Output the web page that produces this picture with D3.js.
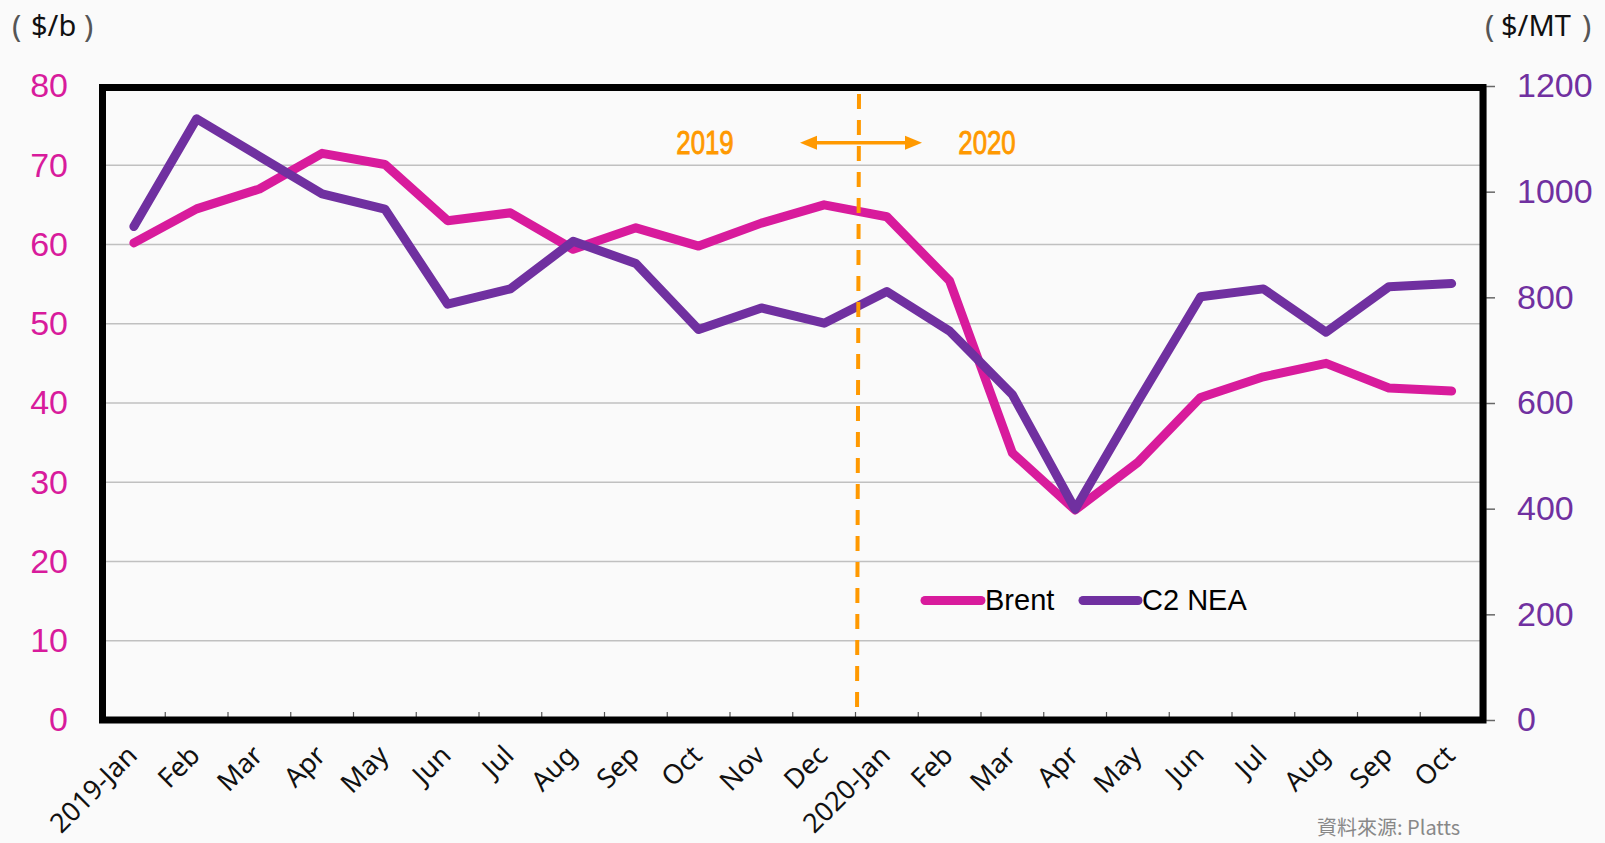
<!DOCTYPE html>
<html>
<head>
<meta charset="utf-8">
<script src="https://cdn.jsdelivr.net/npm/d3@7"></script>
<style>
  html, body { margin: 0; padding: 0; background: #fafafa; }
  svg { display: block; }
</style>
</head>
<body>
<div class="canvas"></div>
<script>
// month labels along the bottom
const months = [
  "2019-Jan", "Feb", "Mar", "Apr", "May", "Jun", "Jul", "Aug", "Sep", "Oct", "Nov", "Dec",
  "2020-Jan", "Feb", "Mar", "Apr", "May", "Jun", "Jul", "Aug", "Sep", "Oct"
];
// Brent, $/b (left axis)
const brent = [60.2, 64.5, 67.0, 71.5, 70.1, 63.0, 64.0, 59.4, 62.1, 59.8, 62.7, 65.0,
  63.5, 55.4, 33.7, 26.5, 32.5, 40.7, 43.3, 45.0, 41.9, 41.5];
// C2 NEA, $/MT (right axis)
const c2nea = [934, 1138, 1067, 996, 967, 787, 816, 906, 864, 739, 780, 751,
  811, 736, 616, 399, 603, 801, 816, 734, 820, 826];
const leftTicks = [0, 10, 20, 30, 40, 50, 60, 70, 80];
const rightTicks = [0, 200, 400, 600, 800, 1000, 1200];
const series = [
  { name: "Brent", values: brent, axis: "left" },
  { name: "C2 NEA", values: c2nea, axis: "right" }
];
const splitIndex = 12; // 2020-Jan

const width = 1605, height = 843;
const box = { left: 102.5, right: 1483, top: 86, bottom: 720 };
const magenta = "#d81b9c";
const purple = "#7030a0";
const orange = "#ff9900";

const svg = d3.select(".canvas")
  .append("svg")
  .attr("width", width)
  .attr("height", height);

svg.append("rect")
  .attr("width", width)
  .attr("height", height)
  .attr("fill", "#fafafa");

const x = d3.scaleBand()
  .domain(months.map((d, i) => i))
  .range([box.left, box.right])
  .padding(0);

const yLeft = d3.scaleLinear().domain([0, 80]).range([box.bottom, box.top]);
const yRight = d3.scaleLinear().domain([0, 1200]).range([box.bottom, box.top]);

// gridlines
svg.append("g")
  .selectAll("line")
  .data(leftTicks.filter(d => d > 0 && d < 80))
  .enter()
  .append("line")
  .attr("x1", box.left)
  .attr("x2", box.right)
  .attr("y1", d => yLeft(d))
  .attr("y2", d => yLeft(d))
  .attr("stroke", "#c0c0c0")
  .attr("stroke-width", 1.5);

// bottom ticks between months
svg.append("g")
  .selectAll("line")
  .data(months.map((d, i) => i).filter(i => i > 0))
  .enter()
  .append("line")
  .attr("x1", i => x(i))
  .attr("x2", i => x(i))
  .attr("y1", box.bottom)
  .attr("y2", box.bottom - 8)
  .attr("stroke", "#555")
  .attr("stroke-width", 1.2);

// left axis labels
const leftAxis = svg.append("g")
  .attr("transform", "translate(68,0)")
  .call(d3.axisLeft(yLeft).tickValues(leftTicks).tickSize(0).tickPadding(0));
leftAxis.select(".domain").remove();
leftAxis.selectAll("text")
  .attr("fill", magenta)
  .style("font-family", "'Liberation Sans', Arial, sans-serif")
  .style("font-size", "34px");

// right axis
const rightAxis = svg.append("g")
  .attr("transform", `translate(${box.right + 2},0)`)
  .call(d3.axisRight(yRight).tickValues(rightTicks).tickFormat(d3.format("d"))
    .tickSize(10).tickSizeOuter(0).tickPadding(22));
rightAxis.select(".domain").attr("stroke", "#666").attr("stroke-width", 1.5);
rightAxis.selectAll("line").attr("stroke", "#666").attr("stroke-width", 1.5);
rightAxis.selectAll("text")
  .attr("fill", purple)
  .style("font-family", "'Liberation Sans', Arial, sans-serif")
  .style("font-size", "34px");

// month labels, rotated
svg.append("g")
  .selectAll("text")
  .data(months)
  .enter()
  .append("text")
  .attr("transform", (d, i) => `translate(${x(i) + x.bandwidth() / 2 + 5},757) rotate(-45)`)
  .attr("text-anchor", "end")
  .style("font-family", "'Noto Sans', 'Open Sans', sans-serif")
  .style("font-size", "27px")
  .attr("fill", "#111")
  .text(d => d);

// lines
const lineFor = s => d3.line()
  .x((d, i) => x(i) + x.bandwidth() / 2)
  .y(d => (s.axis === "left" ? yLeft(d) : yRight(d)));

svg.append("g")
  .selectAll("path")
  .data(series)
  .enter()
  .append("path")
  .attr("d", s => lineFor(s)(s.values))
  .attr("fill", "none")
  .attr("stroke", s => (s.axis === "left" ? magenta : purple))
  .attr("stroke-width", 9)
  .attr("stroke-linejoin", "round")
  .attr("stroke-linecap", "round");

// 2019 | 2020 divider
const splitX = x(splitIndex) + 1.5;
svg.append("line")
  .attr("x1", splitX + 2)
  .attr("x2", splitX)
  .attr("y1", box.top + 8)
  .attr("y2", box.bottom)
  .attr("stroke", orange)
  .attr("stroke-width", 4)
  .attr("stroke-dasharray", "15,11");

const arrowY = 142.7;
const arrowL = 800, arrowR = 922;
svg.append("line")
  .attr("x1", arrowL + 12)
  .attr("x2", arrowR - 12)
  .attr("y1", arrowY)
  .attr("y2", arrowY)
  .attr("stroke", orange)
  .attr("stroke-width", 3.5);
svg.append("path")
  .attr("d", `M${arrowL},${arrowY} L${arrowL + 17},${arrowY - 7} L${arrowL + 17},${arrowY + 7} Z`)
  .attr("fill", orange);
svg.append("path")
  .attr("d", `M${arrowR},${arrowY} L${arrowR - 17},${arrowY - 7} L${arrowR - 17},${arrowY + 7} Z`)
  .attr("fill", orange);

// condensed year labels
svg.selectAll(".year")
  .data([{ t: "2019", cx: 705 }, { t: "2020", cx: 987 }])
  .enter()
  .append("text")
  .attr("class", "year")
  .attr("transform", d => `translate(${d.cx},153.5) scale(0.76,1)`)
  .attr("text-anchor", "middle")
  .attr("fill", orange)
  .attr("stroke", orange)
  .attr("stroke-width", 0.9)
  .style("font-family", "'Liberation Sans', Arial, sans-serif")
  .style("font-size", "34px")
  .text(d => d.t);

// plot frame
svg.append("rect")
  .attr("x", box.left)
  .attr("y", box.top + 1.5)
  .attr("width", box.right - box.left)
  .attr("height", box.bottom - box.top - 1.5)
  .attr("fill", "none")
  .attr("stroke", "#000")
  .attr("stroke-width", 7);

// legend
const legend = svg.append("g");
const legendItems = [
  { name: "Brent", color: magenta, x1: 925, x2: 981 },
  { name: "C2 NEA", color: purple, x1: 1083, x2: 1138 }
];
legend.selectAll("line")
  .data(legendItems)
  .enter()
  .append("line")
  .attr("x1", d => d.x1)
  .attr("x2", d => d.x2)
  .attr("y1", 600.5)
  .attr("y2", 600.5)
  .attr("stroke", d => d.color)
  .attr("stroke-width", 9)
  .attr("stroke-linecap", "round");
legend.selectAll("text")
  .data(legendItems)
  .enter()
  .append("text")
  .attr("x", d => d.x2 + 4)
  .attr("y", 610)
  .attr("fill", "#000")
  .style("font-family", "'Liberation Sans', Arial, sans-serif")
  .style("font-size", "29px")
  .text(d => d.name);

// axis unit titles
const unitParts = [
  { t: "(", x: 12 }, { t: "$/b", x: 31 }, { t: ")", x: 84 },
  { t: "(", x: 1485 }, { t: "$/MT", x: 1501 }, { t: ")", x: 1582 }
];
svg.append("g")
  .selectAll("text")
  .data(unitParts)
  .enter()
  .append("text")
  .attr("x", d => d.x)
  .attr("y", d => (d.t.length === 1 ? 37 : 36))
  .style("font-family", "'Noto Sans', sans-serif")
  .style("font-size", d => (d.t.length === 1 ? "31px" : "29px"))
  .attr("fill", d => (d.t.length === 1 ? "#555" : "#111"))
  .text(d => d.t);

// source note
svg.append("text")
  .attr("x", 1317)
  .attr("y", 835)
  .style("font-family", "'Noto Sans CJK TC', serif")
  .style("font-size", "20px")
  .attr("fill", "#888")
  .text("資料來源: Platts");
</script>
</body>
</html>
